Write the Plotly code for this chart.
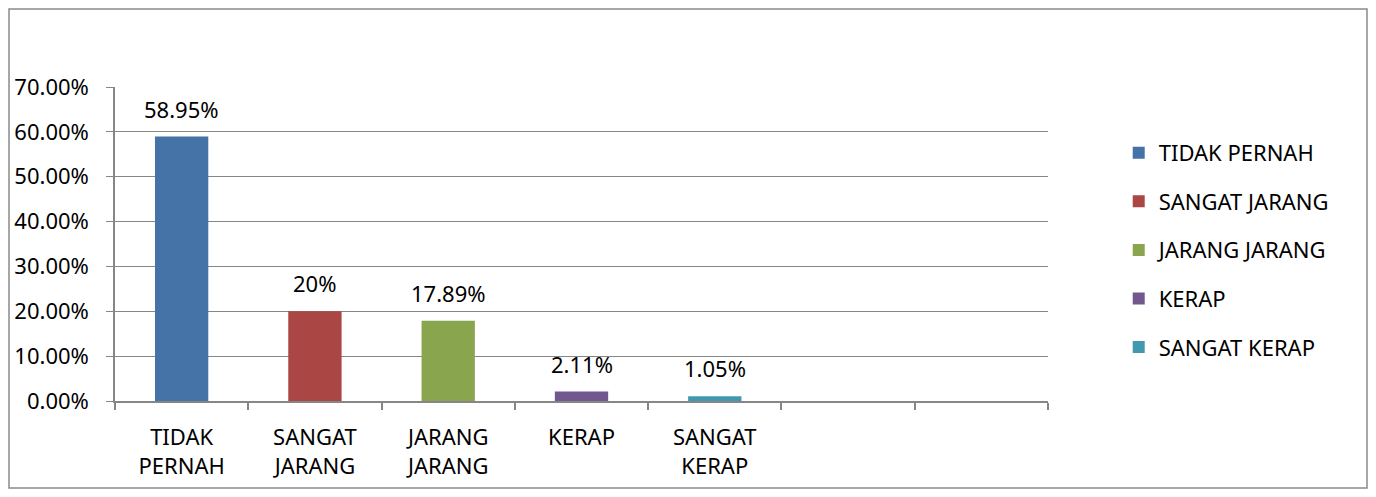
import plotly.graph_objects as go

categories = ["TIDAK PERNAH", "SANGAT JARANG", "JARANG JARANG", "KERAP", "SANGAT KERAP"]
tick_labels = ["TIDAK<br>PERNAH", "SANGAT<br>JARANG", "JARANG<br>JARANG", "KERAP", "SANGAT<br>KERAP"]
values = [58.95, 20.0, 17.89, 2.11, 1.05]
value_labels = ["58.95%", "20%", "17.89%", "2.11%", "1.05%"]
colors = ["#4572A7", "#AA4643", "#89A54E", "#71588F", "#4198AF"]
n_slots = 7
y_ticks = [0, 10, 20, 30, 40, 50, 60, 70]
y_tick_labels = ["%.2f%%" % v for v in y_ticks]

FONT = "Noto Sans"
FS = 22
GRID = "#868686"

fig = go.Figure()
for i, (c, v, col) in enumerate(zip(categories, values, colors)):
    fig.add_trace(go.Bar(
        x=[i], y=[v], name=c, marker=dict(color=col, line=dict(width=0)),
        width=0.4, legendgroup=c, hoverinfo="skip",
    ))
    fig.add_annotation(x=i, y=v, text=value_labels[i], showarrow=False,
                       yanchor="bottom", yshift=11,
                       font=dict(family=FONT, size=FS, color="#000000"))

fig.update_layout(
    barmode="overlay",
    width=1360, height=481,
    margin=dict(l=107, r=320, t=79, b=88, autoexpand=False),
    paper_bgcolor="white", plot_bgcolor="white",
    font=dict(family=FONT, size=FS, color="#000000"),
    showlegend=True,
    legend=dict(x=1.0758, y=0.857, xanchor="left", yanchor="top",
                font=dict(family=FONT, size=FS), tracegroupgap=17,
                itemwidth=30, bgcolor="rgba(0,0,0,0)"),
    xaxis=dict(
        range=[-0.5, n_slots - 0.5], tickmode="array", automargin=False,
        tickvals=list(range(len(categories))), ticktext=tick_labels,
        ticks="", showgrid=False, showline=True, linecolor=GRID, linewidth=1.5,
        zeroline=False, fixedrange=True, ticklabelstandoff=16,
        tickfont=dict(family=FONT, size=FS),
        minor=dict(tickmode="array", tickvals=[k - 0.5 for k in range(n_slots + 1)],
                   ticks="outside", ticklen=7, tickcolor=GRID, tickwidth=1.5,
                   showgrid=False),
    ),
    yaxis=dict(
        range=[0, 70], tickmode="array", tickvals=y_ticks, ticktext=y_tick_labels,
        automargin=False,
        showgrid=True, gridcolor=GRID, gridwidth=1, showline=True, linecolor=GRID,
        linewidth=1.5, ticks="outside", ticklen=7, tickcolor=GRID, zeroline=False,
        ticklabelstandoff=13,
        tickfont=dict(family=FONT, size=FS), fixedrange=True,
    ),
)

fig.add_shape(type="rect", xref="paper", yref="paper",
              x0=-0.1136, x1=1.3419, y0=-0.2771, y1=1.2484,
              line=dict(color="#8a8a8a", width=1.5), fillcolor="rgba(0,0,0,0)", layer="below")

fig.write_html("out.html")
